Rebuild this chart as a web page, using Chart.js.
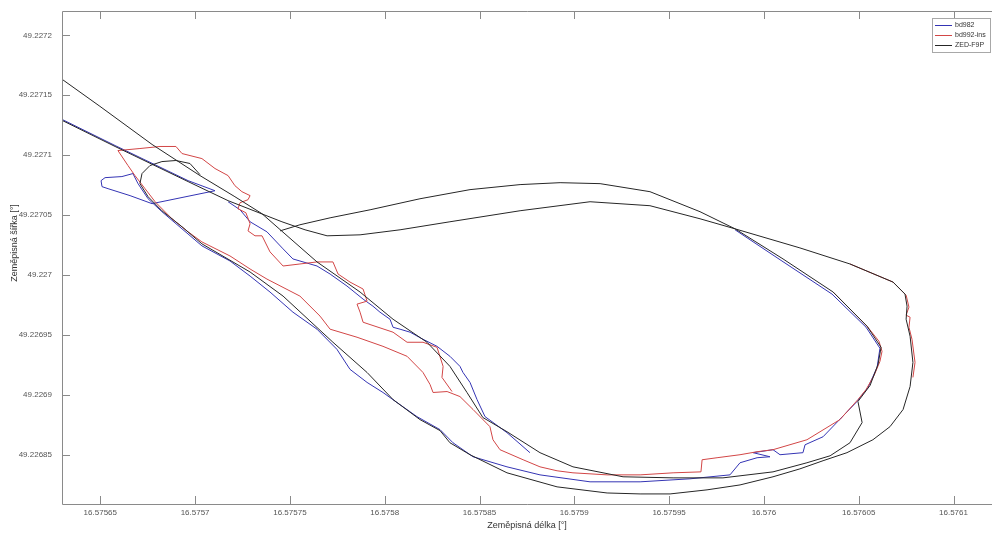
<!DOCTYPE html>
<html>
<head>
<meta charset="utf-8">
<script src="https://cdn.jsdelivr.net/npm/chart.js@4.4.0/dist/chart.umd.min.js"></script>
<style>
  html, body { margin: 0; padding: 0; background: #fff; overflow: hidden; }
  #wrap { width: 992px; height: 533px; }
</style>
</head>
<body>
<div id="wrap"><canvas id="track"></canvas></div>
<script>
// axis ticks (degrees)
const xTicks = [16.57565, 16.5757, 16.57575, 16.5758, 16.57585, 16.5759, 16.57595, 16.576, 16.57605, 16.5761];
const yTicks = [49.22685, 49.2269, 49.22695, 49.227, 49.22705, 49.2271, 49.22715, 49.2272];
const lonMin = 16.5756298, lonMax = 16.5761203;
const latMin = 49.2268091, latMax = 49.2272203;

// ZED-F9P: first pass (upper line -> band -> inner turn -> upper loop)
const zedLonA = [16.5756298, 16.5756498, 16.5756773, 16.5757026, 16.5757210, 16.5757353, 16.5757474, 16.5757643, 16.5757870, 16.5758044, 16.5758223, 16.5758344, 16.5758434, 16.5758518, 16.5758645, 16.5758819, 16.5758993, 16.5759257, 16.5759521, 16.5759784, 16.5760048, 16.5760227, 16.5760349, 16.5760454, 16.5760518, 16.5760496, 16.5760560, 16.5760602, 16.5760618, 16.5760544, 16.5760365, 16.5760101, 16.5759848, 16.5759663, 16.5759399, 16.5759136, 16.5758925, 16.5758714, 16.5758450, 16.5758186, 16.5757923, 16.5757712, 16.5757553, 16.5757448];
const zedLatA = [49.2271634, 49.2271408, 49.2271090, 49.2270830, 49.2270654, 49.2270512, 49.2270344, 49.2270110, 49.2269859, 49.2269632, 49.2269440, 49.2269239, 49.2269021, 49.2268812, 49.2268694, 49.2268519, 49.2268401, 49.2268318, 49.2268309, 49.2268309, 49.2268359, 49.2268435, 49.2268493, 49.2268602, 49.2268770, 49.2268946, 49.2269080, 49.2269256, 49.2269398, 49.2269574, 49.2269859, 49.2270135, 49.2270386, 49.2270529, 49.2270696, 49.2270763, 49.2270771, 49.2270755, 49.2270713, 49.2270637, 49.2270545, 49.2270478, 49.2270420, 49.2270369];
// ZED-F9P: second pass (lower line -> outer loop -> bottom -> band -> hook)
const zedLonB = [16.5756298, 16.5756578, 16.5756963, 16.5757174, 16.5757458, 16.5757580, 16.5757696, 16.5757870, 16.5758081, 16.5758344, 16.5758714, 16.5759083, 16.5759399, 16.5759663, 16.5759848, 16.5760190, 16.5760454, 16.5760681, 16.5760744, 16.5760755, 16.5760750, 16.5760771, 16.5760786, 16.5760771, 16.5760734, 16.5760665, 16.5760575, 16.5760438, 16.5760312, 16.5760190, 16.5760048, 16.5759874, 16.5759700, 16.5759505, 16.5759347, 16.5759173, 16.5758909, 16.5758645, 16.5758450, 16.5758344, 16.5758292, 16.5758186, 16.5758044, 16.5757907, 16.5757727, 16.5757464, 16.5757290, 16.5757036, 16.5756931, 16.5756825, 16.5756752, 16.5756709, 16.5756720, 16.5756762, 16.5756825, 16.5756899, 16.5756973, 16.5757026];
const zedLatB = [49.2271291, 49.2271073, 49.2270780, 49.2270621, 49.2270445, 49.2270378, 49.2270328, 49.2270336, 49.2270378, 49.2270445, 49.2270537, 49.2270612, 49.2270579, 49.2270470, 49.2270386, 49.2270227, 49.2270093, 49.2269942, 49.2269842, 49.2269741, 49.2269632, 49.2269490, 49.2269272, 49.2269071, 49.2268879, 49.2268736, 49.2268627, 49.2268519, 49.2268452, 49.2268384, 49.2268318, 49.2268250, 49.2268209, 49.2268175, 49.2268175, 49.2268183, 49.2268234, 49.2268351, 49.2268502, 49.2268602, 49.2268703, 49.2268795, 49.2268962, 49.2269188, 49.2269440, 49.2269825, 49.2270026, 49.2270261, 49.2270403, 49.2270537, 49.2270654, 49.2270763, 49.2270847, 49.2270914, 49.2270947, 49.2270956, 49.2270931, 49.2270838];

// bd992-ins
const insLonA = [16.5760496, 16.5760401, 16.5760227, 16.5760048, 16.5759964, 16.5759874, 16.5759753, 16.5759674, 16.5759668, 16.5759521, 16.5759347, 16.5759173, 16.5758993, 16.5758909, 16.5758819, 16.5758730, 16.5758608, 16.5758571, 16.5758555, 16.5758466, 16.5758397, 16.5758329, 16.5758255, 16.5758239, 16.5758202, 16.5758118, 16.5757991, 16.5757854, 16.5757712, 16.5757659, 16.5757553, 16.5757379, 16.5757290, 16.5757184, 16.5757036, 16.5756963, 16.5756878, 16.5756789, 16.5756736, 16.5756683, 16.5756646, 16.5756593, 16.5756709, 16.5756815, 16.5756899, 16.5756931, 16.5757036, 16.5757105, 16.5757174, 16.5757210, 16.5757247, 16.5757290, 16.5757279, 16.5757237, 16.5757226, 16.5757268, 16.5757290, 16.5757279, 16.5757316, 16.5757353, 16.5757395, 16.5757464, 16.5757553, 16.5757643, 16.5757727, 16.5757754, 16.5757817, 16.5757886, 16.5757907, 16.5757854, 16.5757870, 16.5757886, 16.5758044, 16.5758118, 16.5758202, 16.5758276, 16.5758308, 16.5758302, 16.5758355];
const insLatA = [49.2268962, 49.2268795, 49.2268627, 49.2268544, 49.2268527, 49.2268502, 49.2268477, 49.2268460, 49.2268359, 49.2268351, 49.2268334, 49.2268334, 49.2268351, 49.2268368, 49.2268401, 49.2268460, 49.2268544, 49.2268627, 49.2268736, 49.2268879, 49.2268987, 49.2269029, 49.2269021, 49.2269088, 49.2269188, 49.2269323, 49.2269406, 49.2269482, 49.2269549, 49.2269658, 49.2269825, 49.2269967, 49.2270051, 49.2270160, 49.2270277, 49.2270361, 49.2270470, 49.2270612, 49.2270721, 49.2270830, 49.2270914, 49.2271039, 49.2271056, 49.2271073, 49.2271073, 49.2271014, 49.2270972, 49.2270889, 49.2270830, 49.2270746, 49.2270696, 49.2270663, 49.2270629, 49.2270604, 49.2270554, 49.2270520, 49.2270428, 49.2270369, 49.2270328, 49.2270328, 49.2270194, 49.2270076, 49.2270093, 49.2270110, 49.2270110, 49.2270009, 49.2269942, 49.2269884, 49.2269783, 49.2269758, 49.2269691, 49.2269607, 49.2269524, 49.2269440, 49.2269440, 49.2269398, 49.2269239, 49.2269147, 49.2269029];
const insLonB = [16.5760496, 16.5760539, 16.5760581, 16.5760612, 16.5760623, 16.5760607, 16.5760544, 16.5760365];
const insLatB = [49.2268962, 49.2269046, 49.2269163, 49.2269281, 49.2269364, 49.2269448, 49.2269574, 49.2269859];
const insLonC = [16.5760454, 16.5760681, 16.5760750, 16.5760765, 16.5760750, 16.5760771, 16.5760765, 16.5760781, 16.5760797, 16.5760786];
const insLatC = [49.2270093, 49.2269942, 49.2269833, 49.2269733, 49.2269666, 49.2269649, 49.2269565, 49.2269465, 49.2269272, 49.2269147];

// bd982
const bdLonA = [16.5756298, 16.5756578, 16.5756963, 16.5757105, 16.5756773, 16.5756657, 16.5756541, 16.5756509, 16.5756504, 16.5756525, 16.5756614, 16.5756672, 16.5756699, 16.5756752, 16.5756825, 16.5756931, 16.5757036, 16.5757184, 16.5757290, 16.5757395, 16.5757516, 16.5757643, 16.5757748, 16.5757817, 16.5757907, 16.5757991, 16.5758065, 16.5758170, 16.5758292, 16.5758360, 16.5758466, 16.5758645, 16.5758819, 16.5759083, 16.5759347, 16.5759610, 16.5759821, 16.5759874, 16.5759964, 16.5760032, 16.5759943, 16.5760048, 16.5760085, 16.5760206, 16.5760217, 16.5760312, 16.5760491, 16.5760549, 16.5760597, 16.5760612, 16.5760539, 16.5760359, 16.5760095, 16.5759848];
const bdLatA = [49.2271299, 49.2271081, 49.2270788, 49.2270704, 49.2270596, 49.2270663, 49.2270721, 49.2270738, 49.2270788, 49.2270813, 49.2270822, 49.2270847, 49.2270763, 49.2270637, 49.2270529, 49.2270386, 49.2270244, 49.2270118, 49.2269992, 49.2269859, 49.2269691, 49.2269549, 49.2269381, 49.2269214, 49.2269105, 49.2269021, 49.2268937, 49.2268820, 49.2268711, 49.2268602, 49.2268485, 49.2268401, 49.2268334, 49.2268276, 49.2268276, 49.2268301, 49.2268334, 49.2268435, 49.2268477, 49.2268485, 49.2268519, 49.2268544, 49.2268502, 49.2268519, 49.2268585, 49.2268652, 49.2268946, 49.2269063, 49.2269230, 49.2269390, 49.2269565, 49.2269842, 49.2270118, 49.2270378];
const bdLonB = [16.5757174, 16.5757237, 16.5757290, 16.5757379, 16.5757464, 16.5757516, 16.5757643, 16.5757712, 16.5757801, 16.5757886, 16.5757938, 16.5757975, 16.5758028, 16.5758044, 16.5758081, 16.5758134, 16.5758202, 16.5758276, 16.5758344, 16.5758397, 16.5758413, 16.5758450, 16.5758487, 16.5758529, 16.5758645, 16.5758766];
const bdLatB = [49.2270612, 49.2270545, 49.2270445, 49.2270361, 49.2270219, 49.2270135, 49.2270076, 49.2270009, 49.2269909, 49.2269800, 49.2269741, 49.2269691, 49.2269632, 49.2269565, 49.2269549, 49.2269524, 49.2269465, 49.2269406, 49.2269323, 49.2269239, 49.2269188, 49.2269105, 49.2268962, 49.2268820, 49.2268686, 49.2268519];

const FONT = '"Liberation Sans", Arial, sans-serif';

const series = [
  { label: 'bd982', color: '#3434b4', order: 3, parts: [[bdLonA, bdLatA], [bdLonB, bdLatB]] },
  { label: 'bd992-ins', color: '#d24646', order: 2, parts: [[insLonA, insLatA], [insLonB, insLatB], [insLonC, insLatC]] },
  { label: 'ZED-F9P', color: '#262626', order: 1, parts: [[zedLonA, zedLatA], [zedLonB, zedLatB]] }
];

const datasets = [];
series.forEach(s => {
  s.parts.forEach(([lon, lat]) => {
    datasets.push({
      label: s.label,
      data: lon.map((x, i) => ({ x: x, y: lat[i] })),
      showLine: true,
      borderColor: s.color,
      backgroundColor: s.color,
      borderWidth: 1,
      pointRadius: 0,
      order: s.order
    });
  });
});

// matlab style box, inward ticks, y label and legend
const framePlugin = {
  id: 'frame',
  afterDraw(chart) {
    const { ctx, chartArea: a, scales: { x, y } } = chart;
    ctx.save();
    ctx.strokeStyle = '#8a8a8a';
    ctx.lineWidth = 1;
    ctx.beginPath();
    ctx.moveTo(a.right, a.top + 0.5);
    ctx.lineTo(a.left + 0.5, a.top + 0.5);
    ctx.lineTo(a.left + 0.5, a.bottom + 0.5);
    ctx.lineTo(a.right, a.bottom + 0.5);
    xTicks.forEach(v => {
      const px = Math.round(x.getPixelForValue(v)) + 0.5;
      ctx.moveTo(px, a.bottom); ctx.lineTo(px, a.bottom - 8);
      ctx.moveTo(px, a.top); ctx.lineTo(px, a.top + 8);
    });
    yTicks.forEach(v => {
      const py = Math.round(y.getPixelForValue(v)) + 0.5;
      ctx.moveTo(a.left, py); ctx.lineTo(a.left + 8, py);
    });
    ctx.stroke();

    // y axis title
    ctx.save();
    ctx.translate(15, 243);
    ctx.rotate(-Math.PI / 2);
    ctx.font = '9px ' + FONT;
    ctx.fillStyle = '#333';
    ctx.textAlign = 'center';
    ctx.textBaseline = 'middle';
    ctx.fillText('Zeměpisná šířka [°]', 0, 0);
    ctx.restore();

    // legend
    ctx.fillStyle = '#fff';
    ctx.fillRect(932, 18, 58, 34);
    ctx.strokeStyle = '#a8a8a8';
    ctx.strokeRect(932.5, 18.5, 58, 34);
    ctx.font = '7px ' + FONT;
    ctx.textBaseline = 'middle';
    series.forEach((s, i) => {
      const ly = 25.5 + i * 10;
      ctx.strokeStyle = s.color;
      ctx.beginPath();
      ctx.moveTo(935, ly); ctx.lineTo(952, ly);
      ctx.stroke();
      ctx.fillStyle = '#333';
      ctx.fillText(s.label, 955, ly);
    });
    ctx.restore();
  }
};

new Chart(document.getElementById('track'), {
  type: 'scatter',
  data: { datasets: datasets },
  options: {
    responsive: true,
    maintainAspectRatio: false,
    animation: false,
    devicePixelRatio: 1,
    layout: { padding: { top: 11, right: 0, bottom: 0, left: 0 } },
    plugins: { legend: { display: false }, tooltip: { enabled: false } },
    scales: {
      x: {
        type: 'linear',
        min: lonMin,
        max: lonMax,
        afterBuildTicks: s => { s.ticks = xTicks.map(v => ({ value: v })); },
        afterFit: s => { s.height = 29; s.paddingLeft = 0; s.paddingRight = 0; },
        grid: { display: false, drawTicks: false },
        border: { display: false },
        ticks: { font: { family: FONT, size: 8 }, color: '#555', padding: 4, maxRotation: 0, autoSkip: false, callback: v => String(v) },
        title: { display: true, text: 'Zeměpisná délka [°]', font: { family: FONT, size: 9 }, color: '#333', padding: { top: 0, bottom: 2 } }
      },
      y: {
        type: 'linear',
        min: latMin,
        max: latMax,
        afterBuildTicks: s => { s.ticks = yTicks.map(v => ({ value: v })); },
        afterFit: s => { s.width = 62; s.paddingTop = 0; s.paddingBottom = 0; },
        grid: { display: false, drawTicks: false },
        border: { display: false },
        ticks: { font: { family: FONT, size: 8 }, color: '#555', padding: 10, autoSkip: false, callback: v => String(v) }
      }
    }
  },
  plugins: [framePlugin]
});
</script>
</body>
</html>
